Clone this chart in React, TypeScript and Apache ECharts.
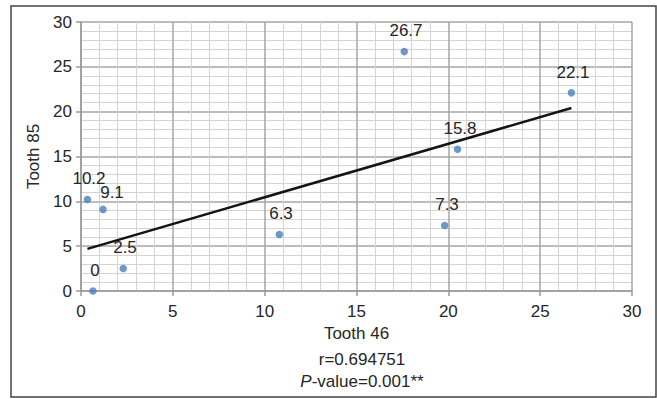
import React, { useEffect, useRef } from "react";
import * as echarts from "echarts";

const xValues = [0.65, 2.3, 0.35, 1.2, 10.8, 17.6, 26.7, 20.5, 19.8];
const yValues = [0, 2.5, 10.2, 9.1, 6.3, 26.7, 22.1, 15.8, 7.3];
const axisTicks = [0, 5, 10, 15, 20, 25, 30];
const xAxisName = "Tooth 46";
const yAxisName = "Tooth 85";
const statR = "r=0.694751";
const statP = "-value=0.001**";

const FONT = "'Liberation Sans', Arial, sans-serif";
const TEXT = "#262626";

function regression(xs: number[], ys: number[]) {
  const n = xs.length;
  const mx = xs.reduce((a, b) => a + b, 0) / n;
  const my = ys.reduce((a, b) => a + b, 0) / n;
  let sxy = 0;
  let sxx = 0;
  for (let i = 0; i < n; i++) {
    sxy += (xs[i] - mx) * (ys[i] - my);
    sxx += (xs[i] - mx) * (xs[i] - mx);
  }
  const slope = sxy / sxx;
  return { slope, intercept: my - slope * mx };
}

export default function App() {
  const ref = useRef<HTMLDivElement>(null);
  useEffect(() => {
    if (!ref.current) return;
    const chart = echarts.init(ref.current, undefined, { renderer: "svg" });
    const { slope, intercept } = regression(xValues, yValues);
    const xmin = Math.min(...xValues);
    const xmax = Math.max(...xValues);
    const trend = [
      [xmin, intercept + slope * xmin],
      [xmax, intercept + slope * xmax],
    ];
    const points = xValues.map((x, i) => [x, yValues[i]]);
    const axisCommon = {
      type: "value",
      min: axisTicks[0],
      max: axisTicks[axisTicks.length - 1],
      interval: 5,
      axisLine: { show: true, lineStyle: { color: "#9a9a9a", width: 1.5 } },
      axisTick: { show: true, length: 5, lineStyle: { color: "#9a9a9a", width: 1.5 } },
      minorTick: { show: true, splitNumber: 5, length: 0 },
      splitLine: { show: true, lineStyle: { color: "#a6a6a6", width: 1.5 } },
      minorSplitLine: { show: true, lineStyle: { color: "#d4d4d4", width: 1 } },
      axisLabel: { color: TEXT, fontSize: 17, fontFamily: FONT },
      nameLocation: "middle",
      nameTextStyle: { color: TEXT, fontSize: 17, fontFamily: FONT },
    };
    chart.setOption({
      animation: false,
      backgroundColor: "#fff",
      textStyle: { fontFamily: FONT },
      grid: { left: 81, right: 25, top: 22, bottom: 108 },
      xAxis: {
        ...axisCommon,
        name: xAxisName,
        nameGap: 28,
        axisLabel: { ...axisCommon.axisLabel, margin: 12 },
      },
      yAxis: {
        ...axisCommon,
        name: yAxisName,
        nameGap: 36,
        nameRotate: 90,
        axisLabel: { ...axisCommon.axisLabel, margin: 9 },
      },
      graphic: [
        {
          type: "rect",
          shape: { x: 11, y: 6, width: 645, height: 391 },
          style: { fill: "none", stroke: "#444", lineWidth: 1.5 },
          z: -1,
        },
        {
          type: "text",
          x: 362,
          y: 359,
          style: {
            text: statR,
            fontSize: 17,
            fontFamily: FONT,
            fill: TEXT,
            align: "center",
            verticalAlign: "middle",
          },
        },
        {
          type: "text",
          x: 362,
          y: 381,
          style: {
            text: "{i|P}" + statP,
            fontSize: 17,
            fontFamily: FONT,
            fill: TEXT,
            align: "center",
            verticalAlign: "middle",
            rich: {
              i: { fontStyle: "italic", fontSize: 17, fontFamily: FONT, fill: TEXT },
            },
          },
        },
      ],
      series: [
        {
          type: "line",
          data: trend,
          symbol: "none",
          lineStyle: { color: "#141414", width: 2.5 },
          z: 3,
        },
        {
          type: "scatter",
          data: points,
          symbol: "circle",
          symbolSize: 7.5,
          itemStyle: { color: "#4a7ebb" },
          z: 4,
          label: {
            show: true,
            position: "top",
            distance: 9,
            color: TEXT,
            opacity: 1,
            textBorderWidth: 0,
            textBorderColor: "transparent",
            fontSize: 17,
            fontFamily: FONT,
            formatter: (p: any) => String(p.value[1]),
          },
          labelLayout: (p: any) => {
            const special = yValues[p.dataIndex] === 9.1;
            const dx = special ? 9 : 2;
            const dy = special ? 4 : 0;
            const r = p.labelRect;
            return {
              x: Math.round(r.x + r.width / 2 + dx),
              y: Math.round(r.y + r.height / 2 + dy),
              align: "center",
              verticalAlign: "middle",
              hideOverlap: false,
            };
          },
        },
      ],
    });
    return () => chart.dispose();
  }, []);
  return (
    <div
      ref={ref}
      style={{ position: "fixed", left: 0, top: 0, width: 657, height: 399 }}
    />
  );
}
